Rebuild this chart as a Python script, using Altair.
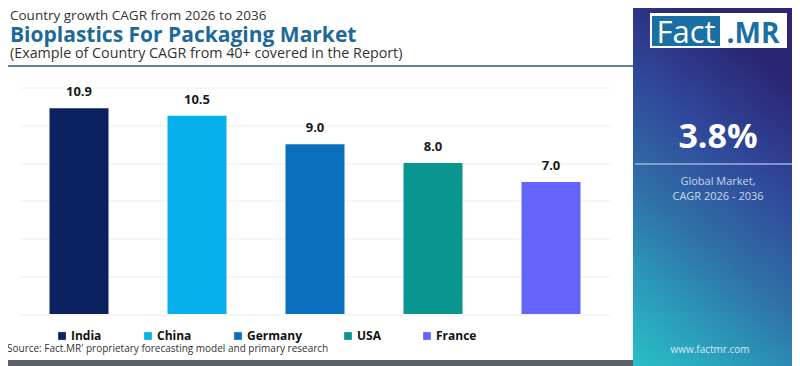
import altair as alt
import pandas as pd

countries = ["India", "China", "Germany", "USA", "France"]
values = [10.9, 10.5, 9.0, 8.0, 7.0]
bar_colors = ["#0b2160", "#06b0ec", "#0a6fbd", "#0a9690", "#6464fb"]
grid_values = [0, 2, 4, 6, 8, 10, 12]

title_top = "Country growth CAGR from 2026 to 2036"
title_main = "Bioplastics For Packaging Market"
title_sub = "(Example of Country CAGR from 40+ covered in the Report)"
source_text = "Source: Fact.MR' proprietary forecasting model and primary research"
kpi_value = "3.8%"
kpi_lines = ["Global Market,", "CAGR 2026 - 2036"]
site = "www.factmr.com"
logo_left = "Fact"
logo_right = ".MR"

FONT = "Open Sans"
OX, OY = 20, 87.5  # page position of plot origin


def px(x):
    return x - OX


def py(y):
    return y - OY


df = pd.DataFrame({"country": countries, "value": values})
one = pd.DataFrame({"a": [0]})


def text_layer(txt, x, y, size, color, weight="normal", align="left", baseline="alphabetic", font=FONT):
    return alt.Chart(pd.DataFrame({"t": [txt]})).mark_text(
        align=align, baseline=baseline, fontSize=size, font=font,
        fontWeight=weight, color=color
    ).encode(x=alt.value(px(x)), y=alt.value(py(y)), text="t:N")


def rect_layer(x1, x2, y1, y2, fill):
    return alt.Chart(one).mark_rect(fill=fill).encode(
        x=alt.value(px(x1)), x2=alt.value(px(x2)),
        y=alt.value(py(y1)), y2=alt.value(py(y2))
    )


panel_grad = alt.Gradient(
    gradient="linear",
    stops=[
        alt.GradientStop(color="#29c0c6", offset=0),
        alt.GradientStop(color="#2b9dbb", offset=0.2),
        alt.GradientStop(color="#2f6fa6", offset=0.45),
        alt.GradientStop(color="#30479a", offset=0.72),
        alt.GradientStop(color="#2b2574", offset=1),
    ],
    x1=0, y1=1, x2=0.35, y2=0,
)

panel = rect_layer(633, 792, 0, 366, panel_grad)
bottom_strip = rect_layer(0, 633, 360, 366, "#5a5e66")

title_rule = alt.Chart(one).mark_rule(color="#5f8196", strokeWidth=2).encode(
    x=alt.value(px(0)), x2=alt.value(px(633)), y=alt.value(py(66))
)

x_enc = alt.X("country:N", sort=countries, axis=None,
              scale=alt.Scale(paddingInner=0.5, paddingOuter=0.25))
y_enc = alt.Y("value:Q", title=None,
              scale=alt.Scale(domain=[0, 12], nice=False),
              axis=alt.Axis(values=grid_values, grid=True, gridColor="#eeeeee",
                            labels=False, ticks=False, domain=False))

bars = alt.Chart(df).mark_bar().encode(
    x=x_enc,
    y=y_enc,
    color=alt.Color("country:N", sort=countries,
                    scale=alt.Scale(domain=countries, range=bar_colors),
                    legend=alt.Legend(
                        orient="none", legendX=px(56), legendY=py(330),
                        direction="horizontal", title=None,
                        symbolType="square", symbolSize=60, symbolStrokeWidth=0,
                        labelFont=FONT, labelFontSize=12, labelFontWeight="bold",
                        labelColor="#111111", labelOffset=3, columnPadding=40,
                        padding=0,
                    )),
)

labels = alt.Chart(df).mark_text(
    baseline="bottom", dy=-9, fontSize=13, fontWeight="bold", font=FONT, color="#1a1a1a"
).encode(x=x_enc, y=y_enc, text=alt.Text("value:Q", format=".1f"))

# logo
logo_box = rect_layer(650, 787, 13, 48, "#ffffff")
logo_blue = rect_layer(652, 720, 16, 46, "#1b70a3")

layers = [
    panel,
    bottom_strip,
    title_rule,
    bars,
    labels,
    text_layer(title_top, 10, 20, 13.5, "#333333"),
    text_layer(title_main, 10, 42, 21, "#1d6a99", weight="bold"),
    text_layer(title_sub, 10, 58, 14.3, "#333333"),
    text_layer(source_text, 7, 352, 10, "#333333"),
    logo_box,
    logo_blue,
    text_layer(logo_left, 686, 43, 31, "#ffffff", align="center"),
    text_layer(logo_right, 753, 43, 28, "#1b70a3", weight="bold", align="center"),
    text_layer(kpi_value, 718, 148, 34, "#ffffff", weight="bold", align="center"),
    alt.Chart(one).mark_rule(color="#9fb3d6", strokeWidth=1.5).encode(
        x=alt.value(px(635)), x2=alt.value(px(792)), y=alt.value(py(164))
    ),
    text_layer(kpi_lines[0], 718, 185, 11, "#ccd6ec", align="center"),
    text_layer(kpi_lines[1], 718, 200, 11, "#ccd6ec", align="center"),
    text_layer(site, 710, 353, 10, "#d8e8f0", align="center"),
]

chart = alt.layer(*layers).properties(
    width=590, height=226.5,
    padding={"left": 12, "top": 79.5, "right": 182, "bottom": 52},
    autosize=alt.AutoSizeParams(type="none"),
    background="#ffffff",
).configure_view(stroke=None)

chart.save("out.html", embed_options={"renderer": "svg", "actions": False})
